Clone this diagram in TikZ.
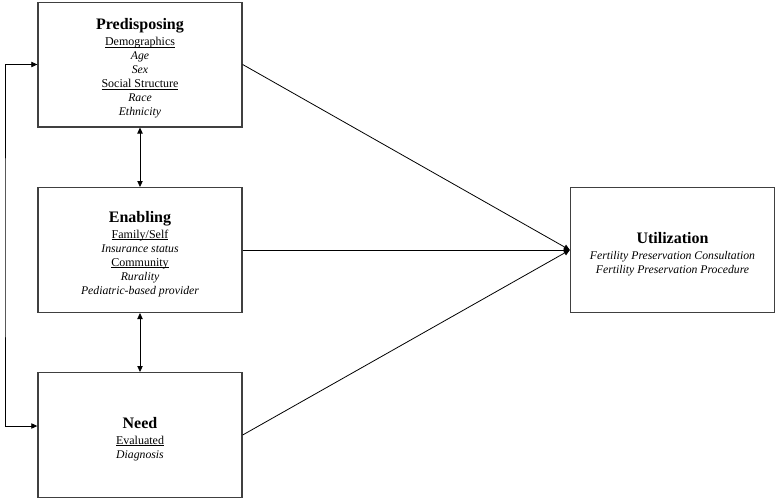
\documentclass[tikz,border=0pt]{standalone}
\usepackage{fontspec}
\setmainfont{Liberation Serif}
\usetikzlibrary{positioning,arrows.meta,calc}
\tikzset{
  factor/.style={draw=black!75, line width=1pt, fill=white, align=center,
    minimum width=153pt, minimum height=93.5pt, inner sep=2pt,
    font=\fontsize{9}{10.5}\selectfont},
  flow/.style={-{Triangle[length=4.5pt,width=4pt]}, line width=0.6pt, draw=black},
  both/.style={{Triangle[length=4.5pt,width=4pt]}-{Triangle[length=4.5pt,width=4pt]},
    line width=0.6pt, draw=black},
}
\newcommand{\fhead}[1]{{\fontsize{12}{14}\selectfont\bfseries\rule{0pt}{14pt}#1}\\[1.5pt]}
\newcommand{\fitem}[1]{{\fontsize{8.8}{10.5}\selectfont\itshape #1}}
\newcommand{\fsub}[1]{\setbox0\hbox{#1}\rlap{\rule[-1.3pt]{\wd0}{0.45pt}}\box0}
\begin{document}
\begin{tikzpicture}[x=0.75pt, y=-0.75pt]
  \useasboundingbox[fill=white] (0,0) rectangle (777,500);
  % three groups of factors
  \node[factor] (pre) at (140,64.5) {\fhead{Predisposing}
    \fsub{Demographics}\\ \fitem{Age}\\ \fitem{Sex}\\
    \fsub{Social Structure}\\ \fitem{Race}\\ \fitem{Ethnicity}};
  \node[factor] (ena) at (140,250) {\fhead{Enabling}
    \fsub{Family/Self}\\ \fitem{Insurance status}\\
    \fsub{Community}\\ \fitem{Rurality}\\ \fitem{Pediatric-based provider}};
  \node[factor] (need) at (140,435) {\fhead{Need}
    \fsub{Evaluated}\\ \fitem{Diagnosis}};
  % outcome
  \node[factor] (util) at (672.5,250) {\fhead{Utilization}
    \fitem{Fertility Preservation Consultation}\\
    \fitem{Fertility Preservation Procedure}};
  \draw[flow] (pre.east) -- (util.west);
  \draw[flow] (ena.east) -- (util.west);
  \draw[flow] (need.east) -- (util.west);
  \draw[both] (pre.south) -- (ena.north);
  \draw[both] (ena.south) -- (need.north);
  \coordinate (loop) at (5,250);
  \draw[both] (pre.west) -| (loop) |- ([yshift=6.75pt]need.west);
\end{tikzpicture}
\end{document}
